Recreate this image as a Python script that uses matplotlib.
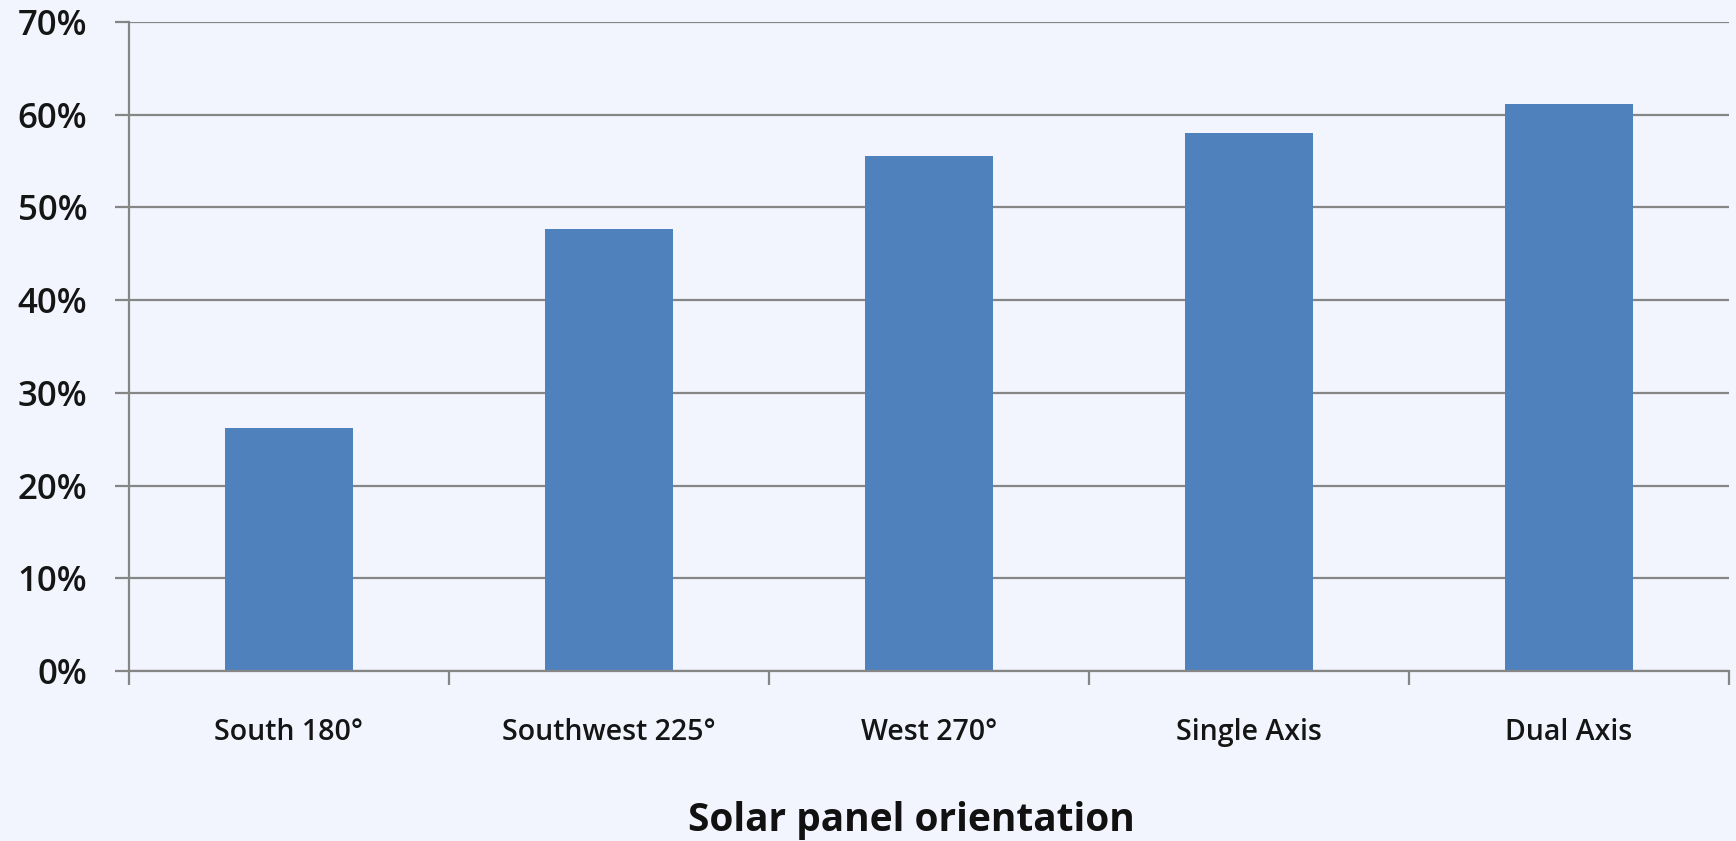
import matplotlib.pyplot as plt
from matplotlib.ticker import FuncFormatter, MultipleLocator

plt.rcParams.update({
    "font.family": ["Open Sans", "DejaVu Sans"],
})

# data
orientations = ['South 180°', 'Southwest 225°', 'West 270°', 'Single Axis', 'Dual Axis']
share = [0.262, 0.477, 0.556, 0.580, 0.612]

bg = '#F2F5FE'
bar_color = '#4F81BD'
grid_color = '#868686'

fig = plt.figure(figsize=(17.36, 8.41), dpi=100, facecolor=bg)
ax = fig.add_axes([0.0743, 0.202, 0.9217, 0.7718], facecolor=bg)

x = list(range(len(orientations)))
ax.bar(x, share, width=0.4, color=bar_color, zorder=3)

ax.set_ylim(0, 0.70)
ax.set_xlim(-0.5, len(orientations) - 0.5)
ax.yaxis.set_major_locator(MultipleLocator(0.10))
ax.yaxis.set_major_formatter(FuncFormatter(lambda v, _: f'{v * 100:.0f}%'))
ax.grid(axis='y', color=grid_color, linewidth=1.6, zorder=0)

# category labels in the middle, tick marks between categories
ax.set_xticks(x)
ax.set_xticklabels(orientations)
ax.set_xticks([i - 0.5 for i in range(len(orientations) + 1)], minor=True)
ax.tick_params(axis='x', which='major', length=0, pad=34, labelsize=20.5, labelcolor='#151515')
ax.tick_params(axis='x', which='minor', length=10, width=1.6, color=grid_color)
ax.tick_params(axis='y', length=10, width=1.6, color=grid_color, pad=20,
               labelsize=25, labelcolor='#151515')
for lbl in ax.get_xticklabels() + ax.get_yticklabels():
    lbl.set_fontweight('semibold')

for side in ['top', 'right']:
    ax.spines[side].set_visible(False)
for side in ['left', 'bottom']:
    ax.spines[side].set_color(grid_color)
    ax.spines[side].set_linewidth(1.6)
ax.spines['bottom'].set_zorder(4)

ax.set_xlabel('Solar panel orientation', fontsize=28, fontweight='bold', color='#111111',
              va='center')
ax.xaxis.set_label_coords(0.489, -0.23)

plt.savefig('out.png', dpi=100, facecolor=bg)
